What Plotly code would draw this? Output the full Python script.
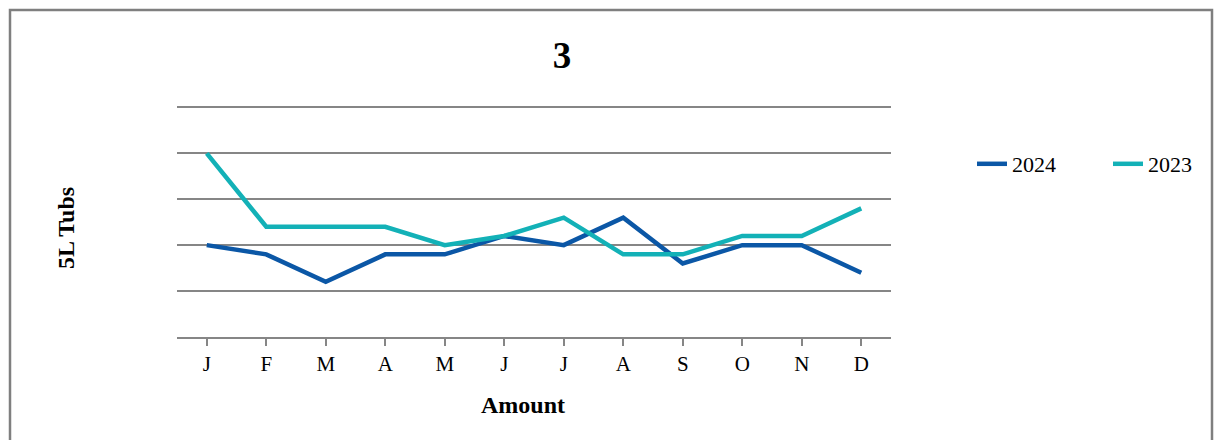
import plotly.graph_objects as go

# chart data
months = ["J", "F", "M", "A", "M", "J", "J", "A", "S", "O", "N", "D"]
values_2024 = [10, 9, 6, 9, 9, 11, 10, 13, 8, 10, 10, 7]
values_2023 = [20, 12, 12, 12, 10, 11, 13, 9, 9, 11, 11, 14]

DARK_BLUE = "#0B57A6"
TEAL = "#13B1B7"
GRID_GREY = "#868686"
FONT = "Liberation Serif, Times New Roman, serif"

# the page adds an 8px body margin, so the figure is sized to fit inside it
W, H, OFF = 1206, 432, 8
Y_TOP = 25.15  # a little headroom so the top gridline is drawn
PLOT_L, PLOT_W = 177, 714
PLOT_B, PLOT_H = 337, 231  # target plot area in page px
PLOT_T = PLOT_B - PLOT_H


def px_x(x):
    return (x - PLOT_L) / PLOT_W


def px_y(y):
    return (PLOT_B - y) / PLOT_H


x_idx = list(range(len(months)))

fig = go.Figure()
fig.add_trace(go.Scatter(x=x_idx, y=values_2024, name="2024", mode="lines",
                         line=dict(color=DARK_BLUE, width=4.5), legend="legend"))
fig.add_trace(go.Scatter(x=x_idx, y=values_2023, name="2023", mode="lines",
                         line=dict(color=TEAL, width=4.5), legend="legend2"))

legend_style = dict(xanchor="left", yanchor="middle", y=px_y(164),
                    font=dict(size=22, family=FONT), bgcolor="rgba(0,0,0,0)")

fig.update_layout(
    width=W, height=H, autosize=False,
    margin=dict(l=PLOT_L - OFF, r=W - (PLOT_L - OFF) - PLOT_W,
                t=PLOT_T - OFF, b=H - (PLOT_T - OFF) - PLOT_H),
    paper_bgcolor="white", plot_bgcolor="white",
    font=dict(family=FONT, size=21, color="black"),
    title=dict(text="<b>3</b>", x=(562 - OFF) / W, xanchor="center", xref="container",
               y=1 - (55 - OFF) / H, yanchor="middle", yref="container",
               font=dict(size=37, family=FONT)),
    showlegend=True,
    legend=dict(x=px_x(972), **legend_style),
    legend2=dict(x=px_x(1108), **legend_style),
)

fig.update_xaxes(
    range=[-0.5, 11.5], tickmode="array", tickvals=x_idx, ticktext=months,
    showgrid=False, showline=True, linecolor=GRID_GREY, linewidth=1.5,
    ticks="outside", ticklen=7, tickcolor=GRID_GREY, tickwidth=1.5,
    tickson="boundaries", zeroline=False, tickfont=dict(size=21),
)
fig.update_yaxes(
    range=[0, Y_TOP], dtick=5, showticklabels=False, showgrid=True,
    gridcolor=GRID_GREY, gridwidth=1.5, zeroline=False, showline=False,
)

# axis titles
fig.add_annotation(text="<b>Amount</b>", xref="paper", yref="paper",
                   x=px_x(523), y=px_y(405), showarrow=False,
                   xanchor="center", yanchor="middle", font=dict(size=24))
fig.add_annotation(text="<b>5L Tubs</b>", xref="paper", yref="paper",
                   x=px_x(66), y=px_y(228), showarrow=False,
                   textangle=-90, xanchor="center", yanchor="middle", font=dict(size=24))

# outer frame (kept just inside the figure so it is not clipped)
fig.add_shape(type="rect", xref="paper", yref="paper",
              x0=px_x(10), x1=px_x(1212), y0=px_y(480), y1=px_y(10),
              line=dict(color="#7F7F7F", width=2.5), layer="below")

fig.write_html("out.html")
